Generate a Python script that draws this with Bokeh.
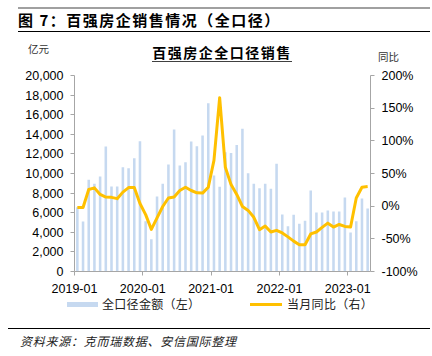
from bokeh.plotting import figure
from bokeh.models import (Range1d, LinearAxis, FixedTicker, NumeralTickFormatter,
                          PrintfTickFormatter, Div)
from bokeh.layouts import column
from bokeh.embed import file_html
from bokeh.resources import INLINE

# ---------------- data ----------------
months = [f"{y}-{m:02d}" for y in range(2019, 2024) for m in range(1, 13)][:52]
amount = [6560, 5100, 9350, 8950, 9690, 12750, 8670, 8670, 10640, 10540, 11560, 13280,
          5130, 3300, 7660, 8960, 10910, 14480, 10810, 11140, 13270, 12790, 13870, 17170,
          9790, 8650, 12180, 12080, 12920, 14560, 10030, 8950, 8500, 8950, 8440, 10990,
          5820, 4630, 5780, 4860, 5170, 8270, 6020, 6020, 6220, 6120, 6120, 7550,
          3980, 5140, 7450, 6430]
yoy = [-2, -2, 25.5, 28, 18, 14, 13.5, 11.5, 21.5, 28.5, 28.5, 4,
       -13, -35.5, -18, -0.5, 12.5, 14, 24, 29, 24, 20.5, 20, 29,
       70, 166, 59.5, 33, 18, -0.5, -6.5, -17, -36, -30.5, -39.5, -37,
       -41, -47, -53.5, -59, -59, -42.5, -39.5, -32.5, -26, -32, -28, -31,
       -32, 12.5, 29, 30]
tick_labels = ["2019-01", "2020-01", "2021-01", "2022-01", "2023-01"]
left_ticks = list(range(0, 20001, 2000))
right_ticks = list(range(-100, 201, 50))

header = "图 7：百强房企销售情况（全口径）"
chart_title = "百强房企全口径销售"
left_unit = "亿元"
right_unit = "同比"
bar_name = "全口径金额（左）"
line_name = "当月同比（右）"
source = "资料来源：克而瑞数据、安信国际整理"

BAR_COLOR = "#C6D9F0"
LINE_COLOR = "#FFC000"

# ---------------- layout ----------------
W = 432
TOP_H = 66
FIG_H = 234
BOT_H = 356 - TOP_H - FIG_H - 1
FL, FR = 74, 62
FT = 9
FB = FIG_H - FT - 196
CJK = "Noto Sans CJK SC"
NUM = "Liberation Sans"

xc = [i + 0.5 for i in range(len(months))]
tick_pos = [months.index(t) for t in tick_labels]

p = figure(width=W, height=FIG_H, output_backend="svg", toolbar_location=None,
           x_range=Range1d(0, len(months)), y_range=Range1d(0, 20000),
           min_border_left=FL, min_border_right=FR, min_border_top=FT, min_border_bottom=FB)
p.extra_y_ranges = {"pct": Range1d(-100, 200)}
p.outline_line_color = None
p.xgrid.visible = False
p.ygrid.visible = False

bars = p.vbar(x=xc, top=amount, width=0.45, fill_color=BAR_COLOR, line_color=None)
line = p.line(x=xc, y=yoy, y_range_name="pct", line_color=LINE_COLOR, line_width=3,
              line_join="round")

AX = "#A6A6A6"
def style_axis(ax):
    ax.axis_line_color = AX
    ax.major_tick_line_color = AX
    ax.major_tick_out = 4
    ax.major_tick_in = 0
    ax.minor_tick_out = 0
    ax.minor_tick_in = 0
    ax.major_label_text_font = NUM
    ax.major_label_text_font_size = "12.5px"
    ax.major_label_text_color = "black"

xa = p.xaxis[0]
xa.ticker = FixedTicker(ticks=tick_pos)
xa.major_label_overrides = {pos: lab for pos, lab in zip(tick_pos, tick_labels)}
xa.major_label_standoff = 8
style_axis(xa)

ya = p.yaxis[0]
ya.ticker = FixedTicker(ticks=left_ticks)
ya.formatter = NumeralTickFormatter(format="0,0")
ya.major_label_standoff = 7
style_axis(ya)

ra = LinearAxis(y_range_name="pct", ticker=FixedTicker(ticks=right_ticks),
                formatter=PrintfTickFormatter(format="%d%%"))
ra.major_label_standoff = 7
style_axis(ra)
p.add_layout(ra, "right")

# ---------------- header / footer (HTML) ----------------
FONT = f"font-family:'{CJK}';"

def txt(x, cy, t, size, weight="normal", style="normal", color="#000", ls=0):
    return (f'<div style="position:absolute;left:{x}px;top:{cy - 10}px;height:20px;'
            f'line-height:20px;font-size:{size}px;font-weight:{weight};font-style:{style};'
            f'letter-spacing:{ls}px;color:{color};white-space:nowrap;{FONT}">{t}</div>')

def rule(x0, x1, y, h, color):
    return (f'<div style="position:absolute;left:{x0}px;top:{y}px;width:{x1 - x0}px;'
            f'height:{h}px;background:{color};"></div>')

top_html = (f'<div style="position:relative;width:{W}px;height:{TOP_H}px;">'
            + rule(18, 430, 7, 2, "#A0A0A0")
            + txt(18, 20, header, 15, weight="bold", ls=1.5)
            + rule(18, 430, 31, 1, "#000")
            + f'<div style="position:absolute;left:112px;top:44px;width:220px;text-align:center;{FONT}">'
              f'<span style="font-size:14px;font-weight:bold;line-height:17px;display:inline-block;'
              f'letter-spacing:1.5px;border-bottom:1px solid #404040;">{chart_title}</span></div>'
            + txt(28, 49, left_unit, 10.5, color="#333")
            + txt(378, 57, right_unit, 10.5, color="#333")
            + '</div>')

Y0 = TOP_H + FIG_H  # page y of bottom div top
bot_html = (f'<div style="position:relative;width:{W}px;height:{BOT_H}px;">'
            + rule(67, 98, 302 - Y0, 5, BAR_COLOR)
            + txt(102, 304 - Y0, bar_name, 12, color="#222", ls=0.3)
            + rule(250, 282, 303 - Y0, 3, LINE_COLOR)
            + txt(287, 304 - Y0, line_name, 12, color="#222", ls=0.3)
            + rule(8, 430, 328 - Y0, 1, "#000")
            + txt(20, 341 - Y0, source, 12, style="italic", color="#222", ls=0.75)
            + '</div>')

top = Div(text=top_html, width=W, height=TOP_H, margin=0)
bot = Div(text=bot_html, width=W, height=BOT_H, margin=0)

layout = column(top, p, bot, spacing=0, margin=0)
open("out.html", "w").write(file_html(layout, INLINE))
